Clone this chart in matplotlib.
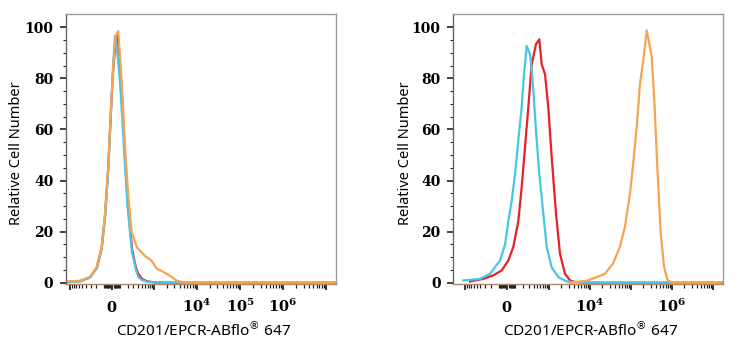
import numpy as np
import matplotlib
matplotlib.use("Agg")
import matplotlib.pyplot as plt
from matplotlib.ticker import FixedLocator, FixedFormatter, NullFormatter

# ---------------- data (fluorescence intensity, relative cell number) ----------------
left_red_x = [-1500, -568, -311, -193, -123, -81, -42, -14.7, 14.7, 42, 61, 81, 115, 160, 197, 237, 273, 311, 353, 407, 506, 662, 1047, 2353, 2.0e7]
left_red_y = [0.2, 0.6, 2.1, 5.8, 13.5, 26, 45, 65, 84, 94, 97.5, 90, 76, 50, 33, 22, 13.5, 9.5, 6, 3.5, 1.5, 0.6, 0.1, 0, 0]

left_blue_x = [-1500, -568, -311, -193, -123, -81, -42, -14.7, 14.7, 34, 57, 93.5, 125, 160, 197, 237, 273, 311, 353, 407, 506, 662, 1047, 2353, 2.0e7]
left_blue_y = [0, 0.5, 2, 5.5, 13, 25, 44, 64, 86, 96.6, 92, 79, 63, 46, 30, 20, 12, 8.6, 5, 2.3, 1, 0.4, 0.1, 0, 0]

left_orange_x = [-1500, -568, -311, -193, -123, -81, -42, -14.7, 14.7, 42, 73, 115, 160, 209, 267, 369, 601, 873, 1147, 1639, 2353, 3371, 5258, 2.0e7]
left_orange_y = [0.3, 0.8, 2.3, 6, 14, 27, 46, 66, 85, 96.6, 98.5, 79, 53, 34, 20, 14, 10.5, 8.6, 5.5, 4.3, 2.7, 0.8, 0, 0]

right_blue_x = [-1093, -410, -209, -76, -21, 13.8, 50, 88, 128, 174, 209, 255, 318, 378, 463, 565, 714, 869, 1157, 1682, 2701, 5708, 17558, 2.0e7]
right_blue_y = [0.9, 1.5, 3.5, 8.7, 15, 24, 32, 42.5, 55.6, 68.8, 81.6, 92.7, 89.5, 79, 59.5, 42.5, 27, 14, 6, 2.2, 0.5, 0.1, 0, 0]

right_red_x = [-744, -333, -160, -57, 13.8, 68, 128, 174, 225, 284, 355, 463, 565, 650, 788, 952, 1157, 1477, 1852, 2453, 3251, 4309, 10000, 2.0e7]
right_red_y = [0.5, 1.5, 2.9, 4.8, 8.7, 14, 24, 37.4, 53, 68.6, 85.5, 93.4, 95.3, 85.5, 81.6, 68.6, 49, 27, 11.3, 3.5, 0.9, 0.3, 0, 0]

right_orange_x = [3251, 8316, 14580, 23256, 37055, 54000, 71540, 94690, 113970, 137970, 166130, 199960, 242000, 280200, 320600, 371000, 439200, 531700, 639600, 770000, 985600, 2.0e7]
right_orange_y = [0, 0.8, 2.2, 3.5, 7.7, 14.2, 22, 35, 46.8, 61, 78, 87, 98.8, 93.6, 88.4, 71.5, 45.4, 19.4, 6.4, 1.2, 0, 0]

left_xtick_labels = {0: "0", 1e4: "4", 1e5: "5", 1e6: "6"}
right_xtick_labels = {0: "0", 1e4: "4", 1e6: "6"}
ytick_values = [0, 20, 40, 60, 80, 100]
xlabel_text = "CD201/EPCR-ABflo$^{®}$ 647"
ylabel_text = "Relative Cell Number"

# ---------------- style ----------------
C_RED = "#e8202a"
C_BLUE = "#46c6e6"
C_ORANGE = "#f6a352"
plt.rcParams["mathtext.fontset"] = "dejavuserif"

fig = plt.figure(figsize=(7.39, 3.5), dpi=100)

def make_axes(rect, c, xlim, labels, series):
    ax = fig.add_axes(rect)
    ax.set_xscale("function", functions=(lambda v: np.arcsinh(np.asarray(v) / c),
                                         lambda v: c * np.sinh(np.asarray(v))))
    for (xs, ys, col) in series:
        ax.plot(xs, ys, color=col, lw=1.6, solid_joinstyle="round", clip_on=True)
    ax.set_xlim(*xlim)
    ax.set_ylim(-0.5, 105.2)

    # x ticks
    majors = [-1e3, 0, 1e3, 1e4, 1e5, 1e6, 1e7]
    major_lbls = []
    for m in majors:
        if m in labels:
            if m == 0:
                major_lbls.append(r"$\mathbf{0}$")
            else:
                major_lbls.append(r"$\mathbf{10^{%s}}$" % labels[m])
        else:
            major_lbls.append("")
    ax.xaxis.set_major_locator(FixedLocator(majors))
    ax.xaxis.set_major_formatter(FixedFormatter(major_lbls))
    minors = []
    for d in [10, 100, 1000, 1e4, 1e5, 1e6]:
        for k in range(2, 10):
            minors.append(k * d)
            if d <= 100:
                minors.append(-k * d)
    minors += [-2000]
    ax.xaxis.set_minor_locator(FixedLocator(sorted(minors)))
    ax.xaxis.set_minor_formatter(NullFormatter())
    ax.tick_params(axis="x", which="major", direction="out", length=4.5, width=1.3,
                   color="#222222", labelsize=10.5, pad=16)
    ax.tick_params(axis="x", which="minor", direction="out", length=2.6, width=0.9,
                   color="#222222")
    for t in ax.get_xticklabels():
        t.set_va("baseline")

    # y ticks
    ax.yaxis.set_major_locator(FixedLocator(ytick_values))
    ax.yaxis.set_major_formatter(FixedFormatter([str(v) for v in ytick_values]))
    ax.yaxis.set_minor_locator(FixedLocator([v for v in range(0, 101, 5) if v % 20]))
    ax.tick_params(axis="y", which="major", direction="out", length=4, width=1.2,
                   color="#222222", pad=5)
    ax.tick_params(axis="y", which="minor", direction="out", length=2, width=0.8,
                   color="#222222")
    for t in ax.get_yticklabels():
        t.set_fontfamily("DejaVu Serif")
        t.set_fontweight("bold")
        t.set_fontsize(10)

    for side in ["top", "right"]:
        ax.spines[side].set_color("#9a9a9a")
        ax.spines[side].set_linewidth(1.0)
    ax.spines["left"].set_color("#666666")
    ax.spines["left"].set_linewidth(1.0)
    ax.spines["bottom"].set_color("#b08868")
    ax.spines["bottom"].set_linewidth(1.0)

    ax.set_xlabel(xlabel_text, fontfamily="Noto Sans", fontsize=11, labelpad=2,
                  math_fontfamily="dejavusans")
    ax.set_ylabel(ylabel_text, fontfamily="Noto Sans", fontsize=10.5)
    return ax

axL = make_axes([66 / 739, 66 / 350, 270 / 739, 270 / 350], 212, (-1230, 1.7e7), left_xtick_labels,
                [(left_red_x, left_red_y, C_RED), (left_blue_x, left_blue_y, C_BLUE),
                 (left_orange_x, left_orange_y, C_ORANGE)])
axL.yaxis.set_label_coords(-0.155, 0.485)
axL.xaxis.set_label_coords(0.51, -0.135)

axR = make_axes([453 / 739, 66 / 350, 270 / 739, 270 / 350], 189, (-1960, 1.76e7), right_xtick_labels,
                [(right_red_x, right_red_y, C_RED), (right_blue_x, right_blue_y, C_BLUE),
                 (right_orange_x, right_orange_y, C_ORANGE)])
axR.yaxis.set_label_coords(-0.148, 0.485)
axR.xaxis.set_label_coords(0.51, -0.135)

fig.savefig("out.png", dpi=100)
